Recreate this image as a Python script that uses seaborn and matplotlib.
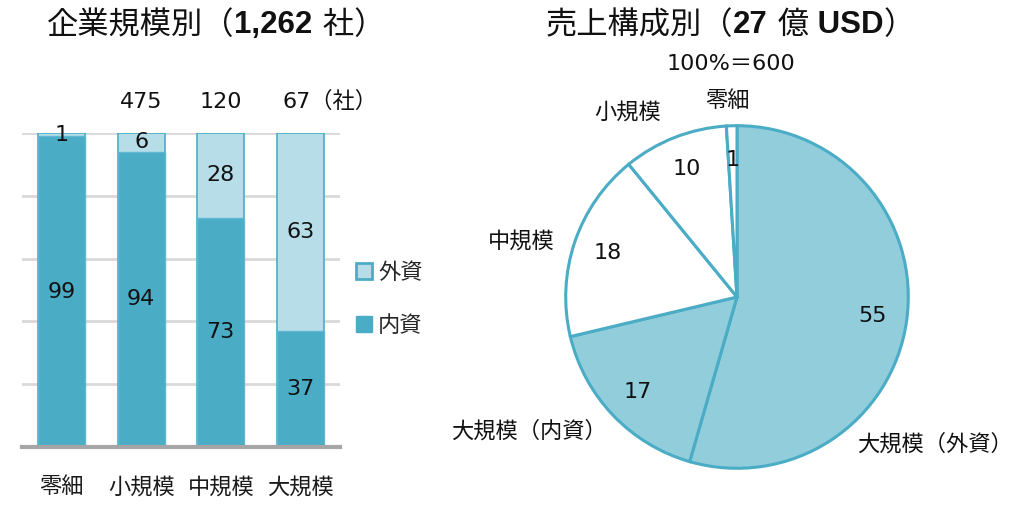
import numpy as np
import pandas as pd
import matplotlib
matplotlib.use("Agg")
import matplotlib.pyplot as plt
from matplotlib.patches import Patch
import seaborn as sns

# ---------------- data ----------------
categories = ["零細", "小規模", "中規模", "大規模"]
domestic = [99, 94, 73, 37]          # 内資 (%)
foreign = [1, 6, 28, 63]             # 外資 (%)
share_total = [100, 100, 100, 100]   # 100% stacked total
counts = ["", "475", "120", "67"]    # companies per category
count_suffix = "（社）"

pie_labels = ["大規模（外資）", "大規模（内資）", "中規模", "小規模", "零細"]
pie_values = [55, 17, 18, 10, 1]
pie_note = "100%＝600"

title_left = [("企業規模別（", "normal"), ("1,262", "bold"), (" 社）", "normal")]
title_right = [("売上構成別（", "normal"), ("27", "bold"), (" 億", "normal"), (" USD", "bold"), ("）", "normal")]

# ---------------- style ----------------
sns.set_theme(style="white")
FAM = ["DejaVu Sans", "Noto Sans CJK JP"]
BOLD_FAM = ["Liberation Sans", "Noto Sans CJK JP"]
plt.rcParams["font.family"] = FAM

DARK = "#4BACC6"
LIGHT = "#B7DEE8"
PIE_LIGHT = "#92CDDC"
EDGE = "#4BACC6"
FS = 16

W, H = 1024, 511
fig = plt.figure(figsize=(W / 100, H / 100), dpi=100)
fig.patch.set_facecolor("white")

# ---------------- left: stacked bars ----------------
ax = fig.add_axes([22 / W, 64 / H, 318 / W, 314 / H])
df = pd.DataFrame({"cat": categories, "dom": domestic, "for": foreign, "tot": share_total})

sns.barplot(data=df, x="cat", y="tot", color=LIGHT, saturation=1, width=0.59,
            edgecolor=EDGE, linewidth=1.2, ax=ax, zorder=3)
sns.barplot(data=df, x="cat", y="dom", color=DARK, saturation=1, width=0.59,
            edgecolor="#5FB8D0", linewidth=1.0, ax=ax, zorder=4)

ax.set_xlim(-0.5, 3.5)
ax.set_ylim(0, 100)
ax.set_yticks(np.arange(0, 101, 20))
ax.yaxis.grid(True, color="#D9D9D9", linewidth=2)
ax.set_axisbelow(True)
ax.set_yticklabels([])
ax.tick_params(axis="y", length=0)
ax.tick_params(axis="x", length=0, pad=21, labelsize=FS)
ax.set_xlabel("")
ax.set_ylabel("")
for s in ["left", "right", "top"]:
    ax.spines[s].set_visible(False)
ax.spines["bottom"].set_color("#A6A6A6")
ax.spines["bottom"].set_linewidth(3)
ax.spines["bottom"].set_zorder(6)
for lbl in ax.get_xticklabels():
    lbl.set_color("#1a1a1a")

for i in range(len(categories)):
    d, f = domestic[i], foreign[i]
    dom_top = min(d, 100)
    ax.text(i, dom_top / 2, str(d), ha="center", va="center", fontsize=FS, color="#111", zorder=7)
    ax.text(i, dom_top + (100 - dom_top) / 2, str(f), ha="center", va="center",
            fontsize=FS, color="#111", zorder=7)
    if counts[i]:
        if i == len(categories) - 1:
            ax.text(i - 0.22, 110, counts[i] + count_suffix, ha="left", va="center",
                    fontsize=FS, color="#111", clip_on=False)
        else:
            ax.text(i, 110, counts[i], ha="center", va="center", fontsize=FS,
                    color="#111", clip_on=False)

handles = [Patch(facecolor=LIGHT, edgecolor=EDGE, linewidth=2),
           Patch(facecolor=DARK, edgecolor=DARK, linewidth=1)]
ax.legend(handles, ["外資", "内資"], loc="center left",
          bbox_to_anchor=(356 / W, (H - 299) / H), bbox_transform=fig.transFigure,
          frameon=False, fontsize=FS, handlelength=0.7, handleheight=0.7,
          handletextpad=0.3, labelspacing=1.45, borderpad=0, borderaxespad=0)

# ---------------- right: pie ----------------
R = 173
cx, cy = 737, 297
pax = fig.add_axes([(cx - R) / W, (H - cy - R) / H, 2 * R / W, 2 * R / H])
pie_colors = [PIE_LIGHT, PIE_LIGHT, "white", "white", "white"]
wedges, _ = pax.pie(pie_values, colors=pie_colors, startangle=90, counterclock=False,
                    radius=1, wedgeprops=dict(edgecolor=EDGE, linewidth=2.2))
pax.set_xlim(-1.01, 1.01)
pax.set_ylim(-1.01, 1.01)
pax.set_axis_off()

for w, v in zip(wedges, pie_values):
    mid = np.deg2rad((w.theta1 + w.theta2) / 2)
    pax.text(0.8 * np.cos(mid), 0.8 * np.sin(mid), str(v), ha="center", va="center",
             fontsize=FS, color="#111")

outer_pos = {
    "大規模（外資）": (1.156, -0.855),
    "大規模（内資）": (-1.214, -0.780),
    "中規模": (-1.260, 0.324),
    "小規模": (-0.636, 1.081),
    "零細": (-0.058, 1.145),
}
for lab in pie_labels:
    x, y = outer_pos[lab]
    pax.text(x, y, lab, ha="center", va="center", fontsize=FS, color="#111", clip_on=False)
pax.text(-0.035, 1.36, pie_note, ha="center", va="center", fontsize=FS, color="#111", clip_on=False)


# ---------------- titles (mixed weight) ----------------
def rich_title(x_center_px, y_px, parts, size):
    texts = []
    for s, wt in parts:
        fam = BOLD_FAM if wt == "bold" else FAM
        texts.append(fig.text(0, 1 - y_px / H, s, fontsize=size, weight=wt, ha="left",
                              va="center", color="#111", family=fam))
    fig.canvas.draw()
    r = fig.canvas.get_renderer()
    widths = [t.get_window_extent(r).width for t in texts]
    x = x_center_px - sum(widths) / 2
    for t, wd in zip(texts, widths):
        t.set_x(x / W)
        x += wd


rich_title(216, 25, title_left, 22.5)
rich_title(730, 25, title_right, 22.5)

fig.savefig("out.png", dpi=100, facecolor="white")
